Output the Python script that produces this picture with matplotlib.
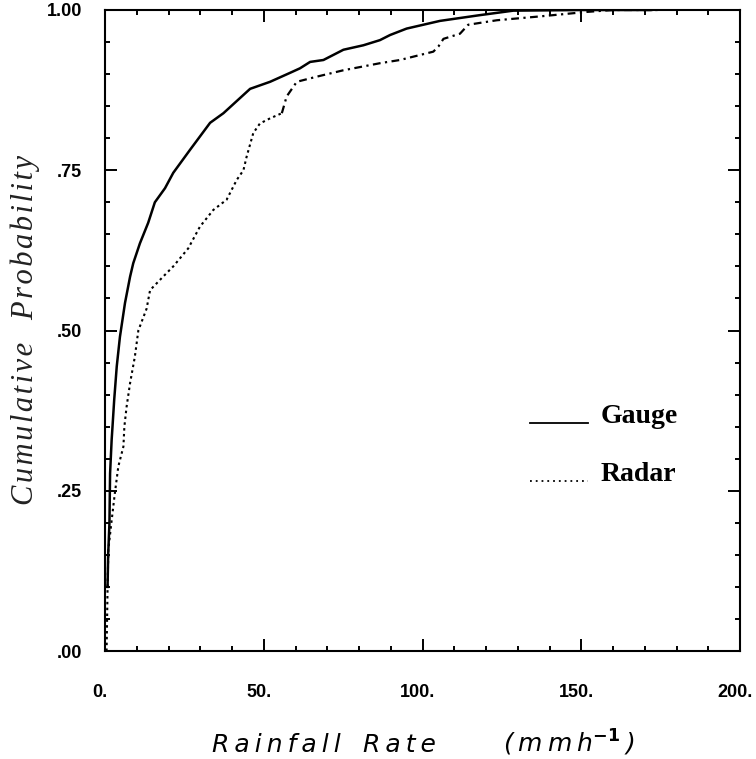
import matplotlib
matplotlib.use("Agg")
import matplotlib.pyplot as plt
from matplotlib.lines import Line2D
from matplotlib.transforms import ScaledTranslation
import numpy as np

# ---- data ----
gauge_x = [0.8, 1.0, 1.4, 1.6, 2.1, 2.3, 2.9, 3.7, 4.7, 6.3, 7.9, 8.9, 11.0, 13.6,
           15.7, 18.9, 21.5, 26.8, 33.1, 37.3, 45.7, 52.0, 58.3, 61.4, 64.6, 68.8,
           75.1, 81.4, 86.6, 89.8, 95.0, 105.5, 118.1, 128.6, 150.0, 172.0]
gauge_y = [0.10, 0.15, 0.20, 0.277, 0.33, 0.345, 0.392, 0.444, 0.49, 0.543, 0.584,
           0.605, 0.636, 0.668, 0.70, 0.722, 0.746, 0.782, 0.824, 0.839, 0.877,
           0.888, 0.902, 0.909, 0.919, 0.922, 0.938, 0.945, 0.953, 0.961, 0.971,
           0.983, 0.992, 0.999, 1.0, 1.0]

radar_dot_x = [0.5, 0.8, 1.05, 2.1, 3.1, 4.2, 5.8, 6.1, 6.8, 7.9, 9.4, 10.5, 13.1,
               14.2, 18.3, 21.5, 26.2, 29.9, 34.1, 38.3, 41.5, 43.6, 44.6, 46.7,
               48.8, 52.0, 55.7]
radar_dot_y = [0.0, 0.095, 0.158, 0.204, 0.246, 0.288, 0.319, 0.35, 0.381, 0.418,
               0.459, 0.50, 0.534, 0.563, 0.584, 0.60, 0.628, 0.662, 0.688, 0.704,
               0.735, 0.75, 0.771, 0.808, 0.823, 0.831, 0.839]

radar_dash_x = [55.7, 57.2, 60.4, 66.7, 75.1, 86.6, 92.9, 103.4, 105.0, 106.6, 111.8,
                114.4, 123.4, 137.0, 147.5, 151.7, 160.0, 175.0]
radar_dash_y = [0.839, 0.865, 0.888, 0.896, 0.906, 0.917, 0.922, 0.935, 0.943, 0.955,
                0.963, 0.977, 0.984, 0.99, 0.995, 0.997, 1.0, 1.0]

x_ticks = [0, 50, 100, 150, 200]
x_tick_labels = ["0.", "50.", "100.", "150.", "200."]
y_ticks = [0.0, 0.25, 0.5, 0.75, 1.0]
y_tick_labels = [".00", ".25", ".50", ".75", "1.00"]

W, H = 756, 759
fig = plt.figure(figsize=(W / 100, H / 100), dpi=100)
ax = fig.add_axes([105 / W, 1 - 651 / H, 635 / W, 641 / H])

ax.plot(gauge_x, gauge_y, color="black", lw=1.8, solid_joinstyle="round")
ax.plot(radar_dot_x, radar_dot_y, color="black", lw=1.5, linestyle=(0, (1.2, 1.6)))
ax.plot(radar_dash_x, radar_dash_y, color="black", lw=1.6, linestyle=(0, (3.5, 2.0, 1.0, 2.0)))

ax.set_xlim(0, 200)
ax.set_ylim(0, 1.0)
ax.set_xticks(x_ticks)
ax.set_xticklabels(x_tick_labels)
ax.set_xticks(np.arange(0, 201, 10), minor=True)
ax.set_yticks(y_ticks)
ax.set_yticklabels(y_tick_labels)
ax.set_yticks(np.arange(0, 1.001, 0.05), minor=True)

for s in ax.spines.values():
    s.set_linewidth(1.5)

ax.tick_params(which="both", direction="in", top=True, right=True, width=1.4)
ax.tick_params(which="major", length=8.6)
ax.tick_params(which="minor", length=3.6)
ax.tick_params(axis="x", which="major", pad=23.5)
ax.tick_params(axis="y", which="major", pad=16.5)

for lbl in ax.get_xticklabels() + ax.get_yticklabels():
    lbl.set_fontfamily("Liberation Sans")
    lbl.set_fontweight("bold")
    lbl.set_fontsize(13)
for lbl in ax.get_xticklabels():
    lbl.set_transform(lbl.get_transform() + ScaledTranslation(-5 / 100, 0, fig.dpi_scale_trans))

# legend (manual, as in the reference)
ax.add_line(Line2D([0.669, 0.761], [0.356, 0.356], transform=ax.transAxes,
                   color="black", lw=1.3))
ax.add_line(Line2D([0.669, 0.761], [0.265, 0.265], transform=ax.transAxes,
                   color="black", lw=1.3, linestyle=(0, (1, 2.2))))
ax.text(0.78, 0.356, "Gauge", transform=ax.transAxes, ha="left", va="baseline",
        fontfamily="Liberation Serif", fontweight="bold", fontsize=20)
ax.text(0.78, 0.265, "Radar", transform=ax.transAxes, ha="left", va="baseline",
        fontfamily="Liberation Serif", fontweight="bold", fontsize=20)


def spaced(word, sep="\u2009"):
    return sep.join(word)


# axis titles
ylab = spaced("Cumulative", "\u200a") + "   " + spaced("Probability", "\u200a")
fig.text(25 / W, 1 - 330 / H, ylab, rotation=90, ha="center",
         va="center", fontfamily=["Liberation Serif", "DejaVu Serif"], fontstyle="italic",
         fontsize=22, color="#222222")

base_y = 1 - 752 / H
fig.text(212 / W, base_y, spaced("Rainfall"), ha="left", va="baseline",
         fontfamily="DejaVu Sans", fontstyle="oblique", fontsize=18)
fig.text(363 / W, base_y, spaced("Rate"), ha="left", va="baseline",
         fontfamily="DejaVu Sans", fontstyle="oblique", fontsize=18)
fig.text(503 / W, base_y, "(\u2009m\u2009m\u2009h$^{\\mathbf{-1}}$\u2009)", ha="left",
         va="baseline", fontfamily="DejaVu Sans", fontstyle="oblique", fontsize=18)

fig.savefig("out.png", dpi=100)
